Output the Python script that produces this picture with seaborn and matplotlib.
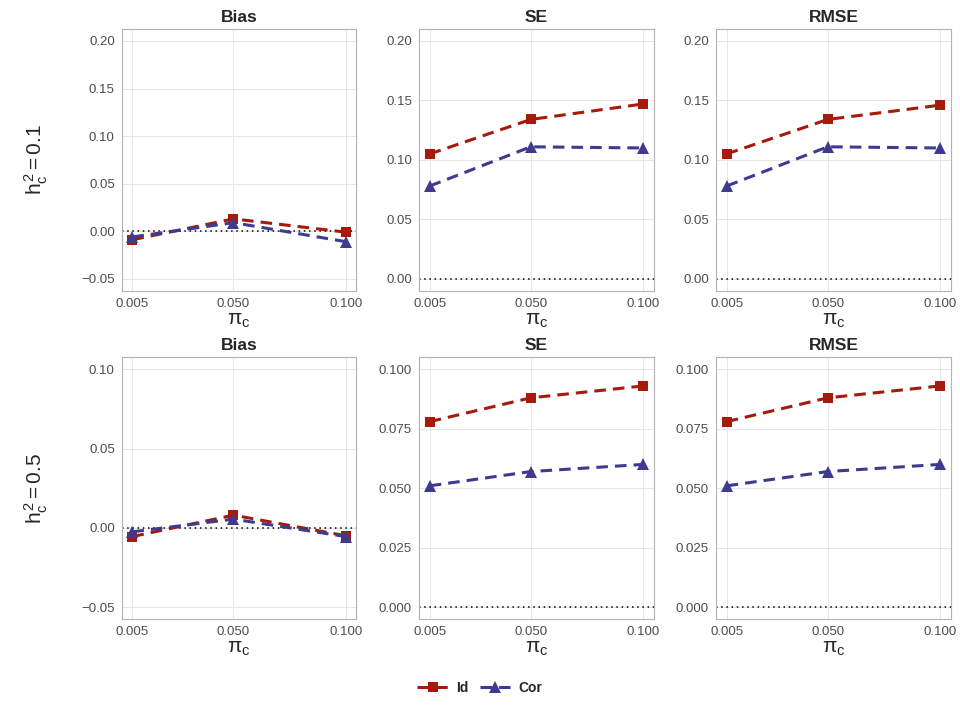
import numpy as np
import pandas as pd
import seaborn as sns
import matplotlib
matplotlib.use("Agg")
import matplotlib.pyplot as plt

# values
pi_c = [0.005, 0.050, 0.100]
methods = ["Id", "Cor"]
metrics = ["Bias", "SE", "RMSE"]
h2_labels = ["0.1", "0.5"]

# row h2 = 0.1
bias_id_01 = [-0.009, 0.013, -0.001]
bias_cor_01 = [-0.006, 0.009, -0.011]
se_id_01 = [0.105, 0.134, 0.147]
se_cor_01 = [0.078, 0.111, 0.110]
rmse_id_01 = [0.105, 0.134, 0.146]
rmse_cor_01 = [0.078, 0.111, 0.110]

# row h2 = 0.5
bias_id_05 = [-0.0055, 0.008, -0.005]
bias_cor_05 = [-0.0025, 0.0055, -0.0055]
se_id_05 = [0.078, 0.088, 0.093]
se_cor_05 = [0.051, 0.057, 0.060]
rmse_id_05 = [0.078, 0.088, 0.093]
rmse_cor_05 = [0.051, 0.057, 0.060]

series = {
    ("0.1", "Bias"): (bias_id_01, bias_cor_01),
    ("0.1", "SE"): (se_id_01, se_cor_01),
    ("0.1", "RMSE"): (rmse_id_01, rmse_cor_01),
    ("0.5", "Bias"): (bias_id_05, bias_cor_05),
    ("0.5", "SE"): (se_id_05, se_cor_05),
    ("0.5", "RMSE"): (rmse_id_05, rmse_cor_05),
}

rows = []
for (h2, metric), (id_vals, cor_vals) in series.items():
    for m, vals in zip(methods, (id_vals, cor_vals)):
        for x, v in zip(pi_c, vals):
            rows.append({"h2": h2, "metric": metric, "method": m, "pi": x, "value": v})
df = pd.DataFrame(rows)

# axis settings per panel
ylims = {
    ("0.1", "Bias"): ((-0.05, 0.2), [-0.05, 0.0, 0.05, 0.10, 0.15, 0.20], "{:.2f}"),
    ("0.1", "SE"): ((0.0, 0.2), [0.0, 0.05, 0.10, 0.15, 0.20], "{:.2f}"),
    ("0.1", "RMSE"): ((0.0, 0.2), [0.0, 0.05, 0.10, 0.15, 0.20], "{:.2f}"),
    ("0.5", "Bias"): ((-0.05, 0.1), [-0.05, 0.0, 0.05, 0.10], "{:.2f}"),
    ("0.5", "SE"): ((0.0, 0.1), [0.0, 0.025, 0.05, 0.075, 0.10], "{:.3f}"),
    ("0.5", "RMSE"): ((0.0, 0.1), [0.0, 0.025, 0.05, 0.075, 0.10], "{:.3f}"),
}

sns.set_theme(style="whitegrid")
plt.rcParams["font.family"] = ["Liberation Sans", "DejaVu Sans"]
plt.rcParams["mathtext.fontset"] = "custom"
plt.rcParams["mathtext.rm"] = "Liberation Sans"
plt.rcParams["mathtext.it"] = "Liberation Sans"
plt.rcParams["axes.unicode_minus"] = True

palette = {"Id": "#A51A0B", "Cor": "#3E3A8F"}
markers = {"Id": "s", "Cor": "^"}
dashes = {"Id": (3.8, 2.3), "Cor": (3.8, 2.3)}

fig = plt.figure(figsize=(9.6, 7.2), dpi=100)

col_left = [0.1268, 0.4365, 0.7458]
width = 0.2445
row_bottom = [0.5963, 0.1403]
height = 0.3633

for r, h2 in enumerate(h2_labels):
    for c, metric in enumerate(metrics):
        ax = fig.add_axes([col_left[c], row_bottom[r], width, height])
        sub = df[(df.h2 == h2) & (df.metric == metric)]
        ax.axhline(0, color="black", linestyle=(0, (1, 2.4)), linewidth=1.1, zorder=1)
        sns.lineplot(data=sub, x="pi", y="value", hue="method", style="method",
                     hue_order=methods, style_order=methods,
                     palette=palette, markers=markers, dashes=dashes,
                     linewidth=2.2, markersize=7.5, markeredgewidth=0,
                     legend=(r == 0 and c == 0), ax=ax, zorder=3)
        for ln in ax.get_lines():
            if ln.get_marker() == "^":
                ln.set_markersize(9)
        (lo, hi), ticks, fmt = ylims[(h2, metric)]
        pad = (hi - lo) * 0.05
        ax.set_ylim(lo - pad, hi + pad)
        ax.set_yticks(ticks)
        ax.set_yticklabels([fmt.format(t).replace("-", "\u2212") for t in ticks])
        xpad = (pi_c[-1] - pi_c[0]) * 0.05
        ax.set_xlim(pi_c[0] - xpad, pi_c[-1] + xpad)
        ax.set_xticks(pi_c)
        ax.set_xticklabels(["0.005", "0.050", "0.100"])
        ax.set_title(metric, fontsize=12.5, fontweight="bold", pad=5)
        ax.set_xlabel(r"$\pi_c$", fontsize=15, labelpad=1)
        ax.set_ylabel("")
        ax.tick_params(axis="both", labelsize=9.5, labelcolor="#4D4D4D",
                       color="#B3B3B3", length=3, width=0.6, pad=2)
        ax.grid(True, color="#E6E6E6", linewidth=0.7)
        for s in ax.spines.values():
            s.set_color("#B3B3B3")
            s.set_linewidth(0.8)
        if r == 0 and c == 0:
            handles, labels = ax.get_legend_handles_labels()
            ax.get_legend().remove()
    fig.text(0.038, row_bottom[r] + height / 2, r"$h_c^2 = $" + h2, rotation=90,
             ha="center", va="center", fontsize=15)

for h in handles:
    if h.get_marker() == "^":
        h.set_markersize(9)
leg = fig.legend(handles, labels, loc="center", bbox_to_anchor=(0.5, 0.044),
                 ncol=2, frameon=False, handlelength=2.2, columnspacing=0.8,
                 handletextpad=0.6, prop={"weight": "bold", "size": 10})

fig.savefig("out.png", dpi=100)
